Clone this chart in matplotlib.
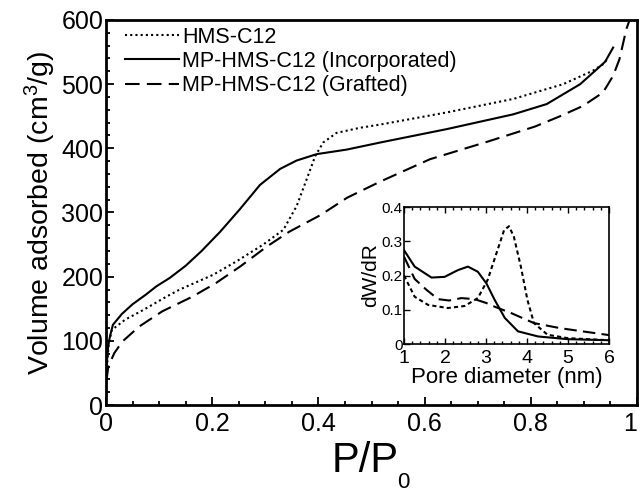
import matplotlib
matplotlib.use("Agg")
import matplotlib.pyplot as plt
from matplotlib.ticker import MultipleLocator, FuncFormatter

plt.rcParams["font.family"] = ["Liberation Sans", "DejaVu Sans"]
plt.rcParams["mathtext.fontset"] = "custom"
plt.rcParams["mathtext.rm"] = "Liberation Sans"
plt.rcParams["mathtext.it"] = "Liberation Sans"

# isotherms (P/P0 vs volume adsorbed)
hms_p = [0.001, 0.005, 0.011, 0.036, 0.070, 0.114, 0.139, 0.202, 0.246, 0.296, 0.334, 0.359,
         0.378, 0.394, 0.409, 0.434, 0.478, 0.516, 0.642, 0.767, 0.861, 0.917, 0.936, 0.945]
hms_v = [50, 95, 117, 133, 148, 169, 180, 203, 224, 250, 273, 310,
         352, 388, 409, 424, 432, 437, 456, 477, 500, 521, 531, 540]

inc_p = [0.001, 0.004, 0.0075, 0.013, 0.030, 0.050, 0.075, 0.095, 0.120, 0.150, 0.180, 0.215, 0.252,
         0.290, 0.328, 0.359, 0.397, 0.453, 0.516, 0.642, 0.767, 0.830, 0.893, 0.924, 0.940, 0.955]
inc_v = [60, 91, 107, 125, 142, 157, 172, 185, 198, 217, 240, 270, 305,
         343, 368, 381, 391, 398, 409, 430, 453, 469, 500, 523, 535, 557]

graft_p = [0.001, 0.0044, 0.0157, 0.031, 0.062, 0.106, 0.163, 0.207, 0.253, 0.303, 0.345, 0.404,
           0.454, 0.516, 0.610, 0.717, 0.808, 0.855, 0.898, 0.936, 0.955, 0.967, 0.980, 0.986]
graft_v = [39, 60, 81, 99, 122, 146, 169, 190, 216, 247, 270, 296,
           323, 348, 383, 410, 434, 450, 466, 487, 513, 539, 586, 600]

# pore size distributions (inset)
hms_d = [1.0, 1.26, 1.59, 2.07, 2.48, 2.80, 3.04, 3.28, 3.44, 3.56, 3.68, 3.85, 4.01, 4.17, 4.5, 5.0, 6.0]
hms_dw = [0.20, 0.138, 0.114, 0.105, 0.111, 0.134, 0.187, 0.274, 0.332, 0.344, 0.313, 0.226,
          0.129, 0.061, 0.027, 0.017, 0.011]

inc_d = [1.0, 1.26, 1.67, 1.99, 2.32, 2.56, 2.80, 3.01, 3.21, 3.46, 3.78, 4.27, 5.0, 6.0]
inc_dw = [0.274, 0.226, 0.194, 0.196, 0.216, 0.226, 0.211, 0.177, 0.129, 0.076, 0.037, 0.022, 0.014, 0.011]

graft_d = [1.0, 1.26, 1.55, 1.83, 2.1, 2.40, 2.72, 3.0, 3.21, 3.62, 4.17, 4.82, 6.0]
graft_dw = [0.255, 0.19, 0.158, 0.131, 0.127, 0.134, 0.131, 0.12, 0.109, 0.090, 0.061, 0.046, 0.026]

labels = ["HMS-C12", "MP-HMS-C12 (Incorporated)", "MP-HMS-C12 (Grafted)"]

fmt = FuncFormatter(lambda v, pos: f"{v:g}")

fig = plt.figure(figsize=(6.41, 4.94), dpi=100)
ax = fig.add_axes([106 / 641, 1 - 405 / 494, 531 / 641, 385 / 494])

ax.plot(hms_p, hms_v, color="black", lw=1.5, ls=(0, (1, 1.5)), label=labels[0])
ax.plot(inc_p, inc_v, color="black", lw=1.5, ls="-", label=labels[1])
ax.plot(graft_p, graft_v, color="black", lw=1.5, ls=(0, (7, 3.5)), label=labels[2])

ax.set_xlim(0, 1)
ax.set_ylim(0, 600)
ax.xaxis.set_major_locator(MultipleLocator(0.2))
ax.xaxis.set_minor_locator(MultipleLocator(0.05))
ax.yaxis.set_major_locator(MultipleLocator(100))
ax.yaxis.set_minor_locator(MultipleLocator(20))
ax.xaxis.set_major_formatter(fmt)
ax.tick_params(which="both", direction="in", width=1.3, labelsize=18)
ax.tick_params(which="major", length=6)
ax.tick_params(which="minor", length=3)
ax.tick_params(axis="y", pad=2)
ax.tick_params(axis="x", pad=5)
for sp in ax.spines.values():
    sp.set_linewidth(2)

# x label with a low subscript, as in the original
fig.text(365 / 641, 1 - 461 / 494, "P/P", fontsize=30, ha="center", va="center")
fig.text(403 / 641, 1 - 482 / 494, "0", fontsize=16, ha="center", va="center")
ax.set_ylabel(r"Volume adsorbed (cm$^3$/g)", fontsize=20.5, labelpad=2)

ax.legend(loc="upper left", bbox_to_anchor=(0.02, 1.005), frameon=False, fontsize=15.5,
          handlelength=2.5, handletextpad=0.15, labelspacing=0.15, borderaxespad=0)

# inset
ins = fig.add_axes([404 / 641, 1 - 344 / 494, 205 / 641, 137 / 494])
ins.plot(hms_d, hms_dw, color="black", lw=1.5, ls=(0, (2, 1.5)))
ins.plot(inc_d, inc_dw, color="black", lw=1.5, ls="-")
ins.plot(graft_d, graft_dw, color="black", lw=1.5, ls=(0, (6, 3)))
ins.set_xlim(1, 6)
ins.set_ylim(0, 0.4)
ins.xaxis.set_major_locator(MultipleLocator(1))
ins.xaxis.set_minor_locator(MultipleLocator(0.2))
ins.yaxis.set_major_locator(MultipleLocator(0.1))
ins.yaxis.set_major_formatter(fmt)
ins.tick_params(which="both", direction="in", top=True, width=1, pad=2)
ins.tick_params(axis="x", labelsize=14, pad=4.5)
ins.tick_params(axis="y", labelsize=11, pad=1)
ins.tick_params(which="major", length=4)
ins.tick_params(which="minor", length=2.5)
for sp in ins.spines.values():
    sp.set_linewidth(1.2)
ins.set_xlabel("Pore diameter (nm)", fontsize=16, labelpad=0)
ins.set_ylabel("dW/dR", fontsize=15)
ins.yaxis.set_label_coords(-0.115, 0.5)

# the "1" sits at the right edge of the figure, keep it inside
fig.canvas.draw()
for lab in ax.get_xticklabels():
    if lab.get_text() == "1":
        lab.set_horizontalalignment("right")
        lab.set_x(1.0)

fig.savefig("out.png", dpi=100)
